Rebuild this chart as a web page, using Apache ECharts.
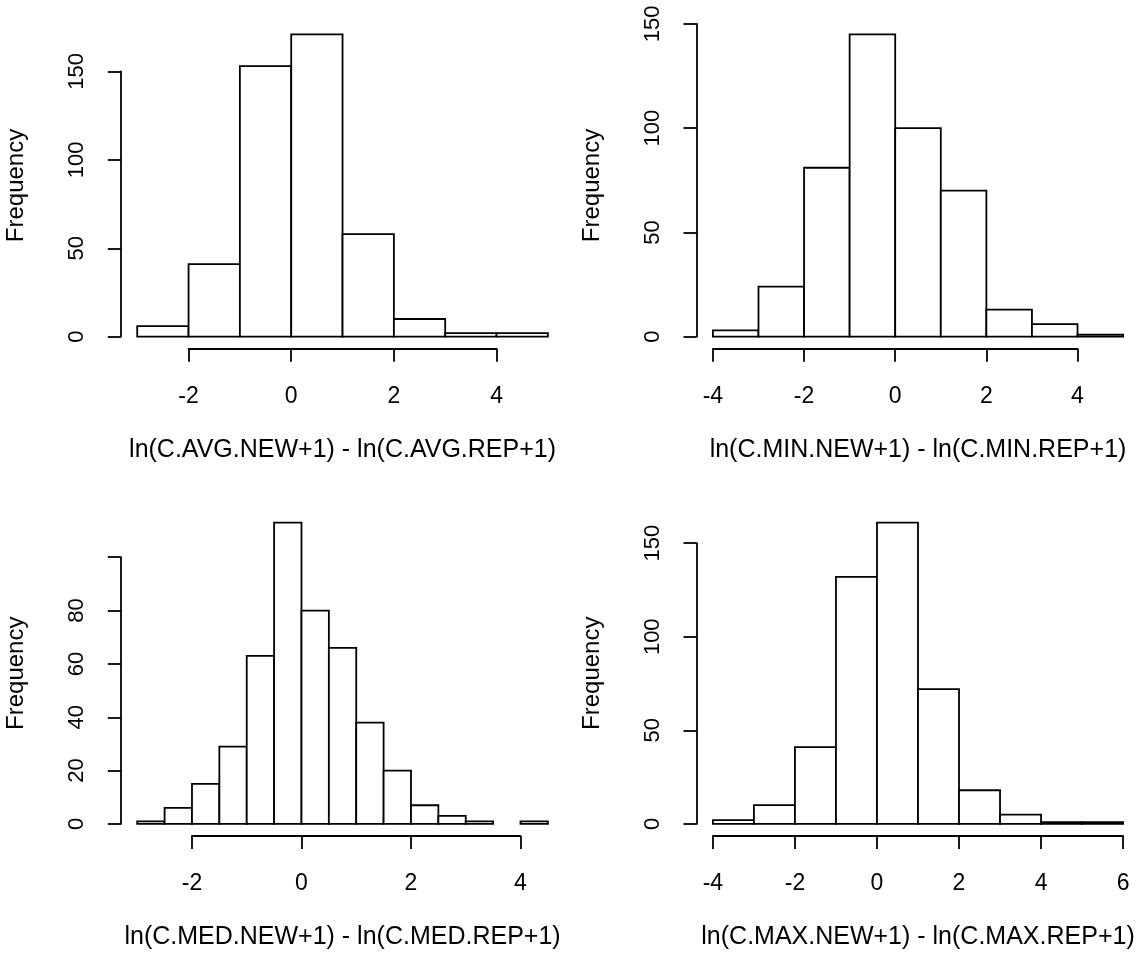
<!DOCTYPE html>
<html><head><meta charset="utf-8">
<script src="https://cdn.jsdelivr.net/npm/echarts@6/dist/echarts.min.js"></script>
<style>html,body{margin:0;padding:0;background:#fff}#c{width:1144px;height:958px}</style>
</head><body><div id="c"></div>
<script>
// ---- data ----
const breaksAvg = [-3, -2, -1, 0, 1, 2, 3, 4, 5];
const countsAvg = [6, 41, 153, 171, 58, 10, 2, 2];
const breaksMin = [-4, -3, -2, -1, 0, 1, 2, 3, 4, 5];
const countsMin = [3, 24, 81, 145, 100, 70, 13, 6, 1];
const breaksMed = [-3, -2.5, -2, -1.5, -1, -0.5, 0, 0.5, 1, 1.5, 2, 2.5, 3, 3.5, 4, 4.5];
const countsMed = [1, 6, 15, 29, 63, 113, 80, 66, 38, 20, 7, 3, 1, 0, 1];
const breaksMax = [-4, -3, -2, -1, 0, 1, 2, 3, 4, 5, 6];
const countsMax = [2, 10, 41, 132, 161, 72, 18, 5, 1, 1];

const xTicksAvg = [-2, 0, 2, 4];
const xTicksMin = [-4, -2, 0, 2, 4];
const xTicksMed = [-2, 0, 2, 4];
const xTicksMax = [-4, -2, 0, 2, 4, 6];

const yTicksAvg = [0, 50, 100, 150];
const yTicksMin = [0, 50, 100, 150];
const yTicksMed = [0, 20, 40, 60, 80, 100];
const yTicksMax = [0, 50, 100, 150];
const yTickLabelsAvg = ['0', '50', '100', '150'];
const yTickLabelsMin = ['0', '50', '100', '150'];
const yTickLabelsMed = ['0', '20', '40', '60', '80', ''];
const yTickLabelsMax = ['0', '50', '100', '150'];

const xLabAvg = 'ln(C.AVG.NEW+1) - ln(C.AVG.REP+1)';
const xLabMin = 'ln(C.MIN.NEW+1) - ln(C.MIN.REP+1)';
const xLabMed = 'ln(C.MED.NEW+1) - ln(C.MED.REP+1)';
const xLabMax = 'ln(C.MAX.NEW+1) - ln(C.MAX.REP+1)';
const yLab = 'Frequency';

// ---- layout ----
const FONT = '"Liberation Sans", Arial, Helvetica, sans-serif';
const XTICK_FS = 23, YTICK_FS = 22, XLAB_FS = 25, YLAB_FS = 24, LW = 1.8;
const panels = [
  {breaks: breaksAvg, counts: countsAvg, xt: xTicksAvg, yt: yTicksAvg, ytl: yTickLabelsAvg, xlab: xLabAvg, left: 120.8, top: 22.2, w: 443.5, h: 326.6},
  {breaks: breaksMin, counts: countsMin, xt: xTicksMin, yt: yTicksMin, ytl: yTickLabelsMin, xlab: xLabMin, left: 696.5, top: 22.2, w: 443.0, h: 326.6},
  {breaks: breaksMed, counts: countsMed, xt: xTicksMed, yt: yTicksMed, ytl: yTickLabelsMed, xlab: xLabMed, left: 120.8, top: 510.5, w: 443.5, h: 325.5},
  {breaks: breaksMax, counts: countsMax, xt: xTicksMax, yt: yTicksMax, ytl: yTickLabelsMax, xlab: xLabMax, left: 696.5, top: 510.5, w: 443.0, h: 325.5}
];

const grid = [], xAxis = [], yAxis = [], series = [];
const hidden = {axisLine: {show: false, onZero: false}, axisTick: {show: false}, axisLabel: {show: false}, splitLine: {show: false}};
const black = '#000';

function renderItem(params, api) {
  const c = api.value(2);
  if (!c) return null;
  const p0 = api.coord([api.value(0), 0]);
  const p1 = api.coord([api.value(1), c]);
  return {
    type: 'rect',
    shape: {x: p0[0], y: p1[1], width: p1[0] - p0[0], height: p0[1] - p1[1]},
    style: {fill: '#fff', stroke: black, lineWidth: LW}
  };
}

panels.forEach((p) => {
  const b0 = p.breaks[0], b1 = p.breaks[p.breaks.length - 1];
  const xr = b1 - b0;
  const xmin = b0 - 0.04 * xr, xmax = b1 + 0.04 * xr;
  const cmax = Math.max(...p.counts);
  const ymin = -0.04 * cmax, ymax = cmax * 1.04;

  // main plotting grid
  const g = grid.length;
  grid.push({left: p.left, top: p.top, width: p.w, height: p.h, containLabel: false});
  xAxis.push(Object.assign({gridIndex: g, type: 'value', min: xmin, max: xmax,
    name: p.xlab, nameLocation: 'middle', nameGap: 89,
    nameTextStyle: {fontSize: XLAB_FS, color: black, fontFamily: FONT}}, hidden));
  yAxis.push(Object.assign({gridIndex: g, type: 'value', min: ymin, max: ymax,
    name: yLab, nameLocation: 'middle', nameGap: 92,
    nameTextStyle: {fontSize: YLAB_FS, color: black, fontFamily: FONT}}, hidden));
  series.push({
    type: 'custom', xAxisIndex: g, yAxisIndex: g, renderItem: renderItem, animation: false,
    data: p.counts.map((c, i) => [p.breaks[i], p.breaks[i + 1], c]),
    encode: {x: [0, 1], y: 2}
  });

  // detached x axis (R style): spans first to last tick
  const xt0 = p.xt[0], xt1 = p.xt[p.xt.length - 1];
  const gx = grid.length;
  grid.push({left: p.left + (xt0 - xmin) / (xmax - xmin) * p.w, width: (xt1 - xt0) / (xmax - xmin) * p.w,
             top: p.top, height: p.h});
  xAxis.push({gridIndex: gx, type: 'value', min: xt0, max: xt1, interval: p.xt[1] - p.xt[0],
    axisLine: {show: true, onZero: false, lineStyle: {color: black, width: LW}},
    axisTick: {show: true, inside: false, length: 13, lineStyle: {color: black, width: LW}},
    axisLabel: {show: true, margin: 36, fontSize: XTICK_FS, color: black, fontFamily: FONT,
                showMinLabel: true, showMaxLabel: true, hideOverlap: false},
    splitLine: {show: false}});
  yAxis.push(Object.assign({gridIndex: gx, type: 'value', min: 0, max: 1}, hidden));

  // detached y axis
  const yt0 = p.yt[0], yt1 = p.yt[p.yt.length - 1];
  const gy = grid.length;
  grid.push({left: p.left, width: p.w, top: p.top + (ymax - yt1) / (ymax - ymin) * p.h,
             height: (yt1 - yt0) / (ymax - ymin) * p.h});
  xAxis.push(Object.assign({gridIndex: gy, type: 'value', min: 0, max: 1}, hidden));
  const labs = p.ytl, ticks = p.yt;
  yAxis.push({gridIndex: gy, type: 'value', min: yt0, max: yt1, interval: p.yt[1] - p.yt[0],
    axisLine: {show: true, onZero: false, lineStyle: {color: black, width: LW}},
    axisTick: {show: true, inside: false, length: 13, lineStyle: {color: black, width: LW}},
    axisLabel: {show: true, rotate: 90, margin: 33, fontSize: YTICK_FS, color: black, fontFamily: FONT,
                showMinLabel: true, showMaxLabel: true, hideOverlap: false,
                formatter: (v) => { const i = ticks.indexOf(v); return i >= 0 ? labs[i] : ''; }},
    splitLine: {show: false}});
});

const chart = echarts.init(document.getElementById('c'), null, {renderer: 'canvas'});
chart.setOption({backgroundColor: '#fff', animation: false, grid, xAxis, yAxis, series});
</script></body></html>
